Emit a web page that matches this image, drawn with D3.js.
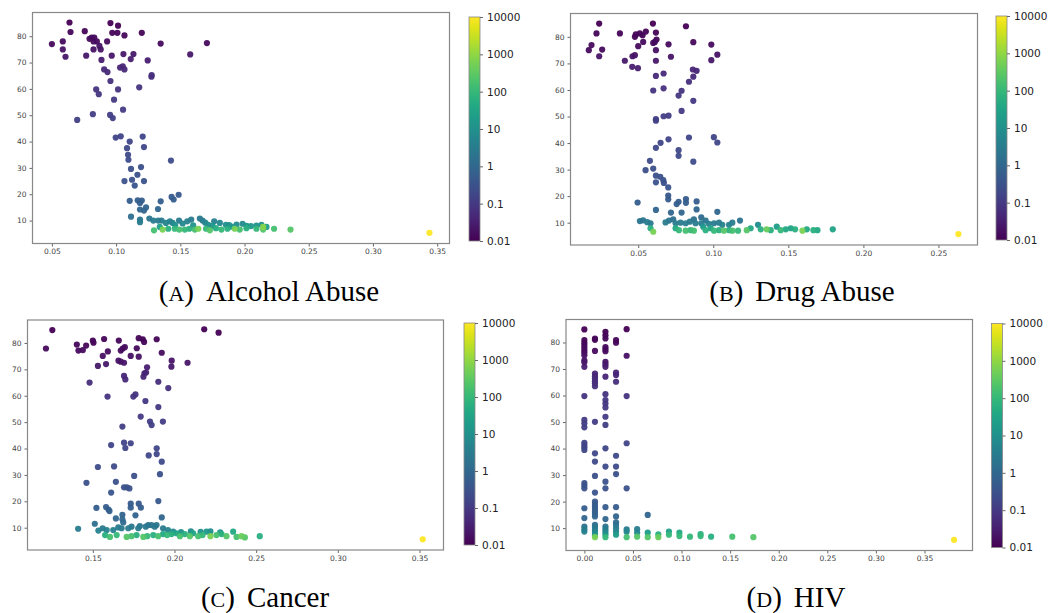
<!DOCTYPE html>
<html lang="en">
<head>
<meta charset="UTF-8">
<title>Scatter panels</title>
<script src="https://d3js.org/d3.v7.min.js"></script>
<style>
    body { margin: 0; background: #fff; }
    .ax .tick text { font-family: "DejaVu Sans", sans-serif; font-size: 7.5px; fill: #444; }
    .ax .tick line { stroke: #666; }
    .ax path { display: none; }
    .cb .tick text { font-family: "DejaVu Sans", sans-serif; font-size: 10.5px; fill: #222; }
    .cb .tick line { stroke: #666; }
    .cb path { display: none; }
    .frame { fill: none; stroke: #888; stroke-width: 1.2; }
    .caption { font-family: "Liberation Serif", "DejaVu Serif", serif; font-size: 29px; fill: #000; }
</style>
</head>
<body>
<svg width="1057" height="613"></svg>
<script>
// [x, y, colour value]
var alcohol = [
    [0.050,77,0.015],[0.0585,78,0.015],[0.0585,75,0.02],[0.0606,72.2,0.025],[0.0637,85.2,0.01],[0.0645,81.6,0.012],
    [0.0756,81.9,0.012],[0.0767,72.6,0.025],[0.0793,79,0.015],[0.081,79.5,0.015],[0.083,79.5,0.015],[0.0824,78,0.015],
    [0.0824,75,0.02],[0.085,78,0.015],[0.087,76.3,0.02],[0.088,75,0.02],[0.0886,71,0.03],[0.093,78,0.015],[0.0956,85,0.01],
    [0.097,81.3,0.012],[0.101,81.3,0.012],[0.1015,84,0.01],[0.1065,80.3,0.013],[0.0966,72.6,0.025],[0.1057,73.2,0.025],
    [0.1135,73.2,0.025],[0.1114,71.3,0.03],[0.12,81.3,0.012],[0.1246,70.8,0.03],[0.1347,77.2,0.015],[0.1577,73.1,0.025],
    [0.1707,77.4,0.015],
    [0.0907,67.4,0.05],[0.0933,66.4,0.05],[0.1031,68.1,0.045],[0.1052,68.6,0.045],[0.1065,67.4,0.05],[0.1277,65.2,0.06],
    [0.1275,64.6,0.06],[0.0956,63,0.07],
    [0.0845,59.8,0.08],[0.0865,58,0.09],[0.1015,59.8,0.08],[0.118,60.6,0.08],[0.0984,55.9,0.1],[0.1054,52.1,0.11],
    [0.0697,48.2,0.13],[0.0819,50.4,0.12],[0.0953,50.1,0.12],[0.0974,48.9,0.13],
    [0.0997,41.5,0.17],[0.1036,42,0.17],[0.1106,40,0.18],[0.1207,41.9,0.17],[0.1217,37.9,0.2],[0.1085,37.5,0.2],
    [0.1093,35,0.22],[0.1096,33.1,0.24],[0.1427,32.8,0.24],[0.1116,29.6,0.28],[0.1194,30.3,0.27],
    [0.1166,27.4,0.3],[0.1065,25,0.33],[0.1124,25.5,0.32],[0.1145,23.3,0.36],[0.1217,25,0.33],
    [0.1432,19,0.5],[0.1448,18,0.55],[0.1487,19.8,0.48],[0.1106,17.5,0.6],[0.1168,17.7,0.6],[0.1186,16.7,0.65],
    [0.12,17.6,0.6],[0.1347,17.3,0.6],[0.1186,14.2,0.9],[0.1217,13.8,0.9],[0.1233,15,0.8],[0.1326,14.4,0.85],
    [0.1116,11.5,1.5],[0.1186,10.4,2],[0.1186,9.4,3],
    [0.1259,10.8,2],[0.129,10,3],[0.1328,10,3],[0.1354,10,3],[0.1388,9.1,5],[0.1419,9.7,4],[0.144,9.1,5],[0.149,10,3],
    [0.1518,8.9,6],[0.1554,9.7,4],[0.1585,10.4,3],[0.1652,10.8,2.5],[0.1673,10,3],[0.1694,9.2,5],[0.1717,8.4,8],
    [0.1764,9.7,4],[0.1808,9.1,6],[0.1855,8.4,9],[0.19,7.7,15],[0.1938,8.5,8],[0.1985,8.8,7],[0.2016,8,12],[0.2093,8.1,12],
    [0.2132,8.4,10],[0.2171,7.6,20],[0.146,8.3,10],[0.16,8.2,12],[0.175,8.0,14],[0.188,8.3,10],[0.205,7.9,14],
    [0.1295,6.3,160],[0.134,7.6,25],[0.1362,6.6,600],[0.1406,6.9,60],[0.1457,6.9,100],[0.1492,6.6,160],[0.1535,6.6,100],
    [0.157,6.9,60],[0.1613,6.6,160],[0.164,6.9,600],[0.17,6.9,100],[0.173,6.3,250],[0.1777,7.1,50],[0.182,6.6,100],
    [0.1867,6.9,60],[0.1924,6.9,600],[0.1963,6.6,160],[0.2015,7.1,60],[0.2093,6.9,100],[0.2145,6.6,250],[0.2145,7.6,800],
    [0.223,6.9,160],[0.2358,6.6,250],
    [0.344,5.35,10000]
];

var drug = [
    [0.0171,75,0.015],[0.0189,76.9,0.015],[0.0222,81.3,0.012],[0.024,85,0.01],[0.024,72.7,0.02],[0.026,75.2,0.015],
    [0.0378,81.3,0.012],[0.0411,71,0.025],[0.0462,72.7,0.02],[0.046,68.7,0.03],[0.0478,73.1,0.02],[0.0498,68.2,0.03],
    [0.0478,80,0.012],[0.0484,80.9,0.012],[0.05,76.5,0.015],[0.0511,81.3,0.012],[0.0529,80.6,0.012],[0.0533,78.1,0.015],
    [0.0551,82,0.012],[0.0598,85,0.01],[0.06,77.7,0.015],[0.0611,78.1,0.015],[0.0618,81.6,0.012],[0.0622,79,0.013],
    [0.0618,75,0.018],[0.0618,71,0.025],[0.0702,77.2,0.015],[0.0718,72.5,0.02],[0.0818,84,0.01],[0.0867,78,0.013],
    [0.0987,77.1,0.015],[0.0987,71.2,0.025],[0.1027,73.3,0.02],
    [0.0618,65.3,0.05],[0.0669,66.2,0.05],[0.0864,67.7,0.045],[0.0889,67.2,0.045],[0.0867,65,0.05],[0.0838,63.1,0.06],
    [0.06,59.8,0.08],[0.0669,60.6,0.07],[0.0789,59.7,0.08],[0.0769,57.9,0.09],[0.0867,55.9,0.1],[0.0789,52.1,0.11],
    [0.0618,49,0.12],[0.0618,48.4,0.13],[0.0669,50.1,0.12],[0.0702,50.3,0.12],
    [0.0702,41.4,0.17],[0.0649,40.1,0.18],[0.0838,42.1,0.17],[0.0618,38.2,0.2],[0.0769,37.3,0.2],[0.0769,35.2,0.22],
    [0.0867,33,0.24],[0.1004,42.2,0.17],[0.1027,40.2,0.18],[0.0578,33.3,0.24],[0.06,30.4,0.27],[0.0549,29.8,0.28],
    [0.0618,27.7,0.3],[0.0647,27.3,0.3],[0.0618,25.2,0.33],[0.0667,26,0.32],[0.0671,25,0.33],[0.07,23.3,0.36],
    [0.07,20.2,0.45],[0.07,18.8,0.5],
    [0.0496,17.6,0.6],[0.0769,17.9,0.55],[0.0756,17,0.6],[0.0818,18.9,0.5],[0.0818,17.5,0.6],[0.0889,18,0.55],
    [0.0618,14.8,0.8],[0.0718,13.8,0.9],[0.0789,13.8,0.9],[0.0889,15,0.8],[0.1027,14.1,0.9],
    [0.0511,10.6,2],[0.0533,10.9,2],[0.056,10.2,3],[0.0582,9.8,3],[0.0682,10.1,3],[0.0705,10.8,2],[0.0733,11.3,1.5],
    [0.0749,9.8,3],[0.0782,10,3],[0.0816,9.8,3],[0.0844,10.4,2.5],[0.0871,11.3,1.5],[0.0882,9.8,3],[0.092,12,1.2],
    [0.092,9.8,3],[0.0949,10.8,2],[0.0971,9.6,3.5],[0.1005,9.8,3],[0.1038,10,3],[0.106,9.2,4],[0.1105,9.2,4],
    [0.1127,10,3],[0.1178,10.8,2],
    [0.0582,7.9,60],[0.06,6.6,600],[0.0749,7.9,40],[0.0771,7.2,100],[0.0816,7,160],[0.0849,7.2,100],[0.0871,7,160],
    [0.0933,8.5,15],[0.0949,7.2,60],[0.0982,7.9,30],[0.1005,7,100],[0.1038,7.2,60],[0.1071,7,250],[0.1105,7.2,60],
    [0.1127,7,160],[0.1165,7,100],[0.1223,7.2,250],[0.1249,7.9,40],[0.1298,9.2,8],[0.1316,7.5,60],[0.1356,7.5,400],
    [0.1383,7.2,60],[0.1423,8.5,20],[0.1449,7.2,100],[0.1483,7.5,40],[0.1516,7.9,30],[0.1545,7.5,60],[0.1594,7,600],
    [0.1623,7.5,40],[0.1667,7.2,60],[0.1694,7.2,40],[0.1796,7.5,30],
    [0.2633,5.7,10000]
];

var cancer = [
    [0.1213,77.9,0.015],[0.1252,84.9,0.01],[0.1402,79.4,0.013],[0.1412,77.1,0.015],[0.1439,77.3,0.015],[0.1459,79,0.013],
    [0.15,80.9,0.012],[0.1504,80.1,0.012],[0.1569,81.5,0.012],[0.1561,75.1,0.018],[0.1592,76.8,0.015],[0.1581,72,0.025],
    [0.1531,71.3,0.025],[0.1659,80.9,0.012],[0.1671,77.1,0.015],[0.1683,77.9,0.015],[0.1696,78.4,0.014],[0.1657,73.3,0.02],
    [0.1671,72.9,0.02],[0.1691,72.5,0.022],[0.1732,75.1,0.018],[0.1769,78,0.014],[0.1781,81.8,0.012],[0.1806,81.4,0.012],
    [0.1814,80.4,0.012],[0.1781,74.8,0.018],[0.1891,81.4,0.012],[0.1922,76.3,0.016],[0.1983,73.3,0.02],[0.1981,71,0.025],
    [0.208,72.5,0.022],[0.2182,85.2,0.01],[0.227,83.9,0.01],[0.1832,70.8,0.03],
    [0.1816,68.5,0.04],[0.1826,68.8,0.04],[0.181,67.2,0.045],[0.1691,67.5,0.045],[0.1699,66.2,0.05],[0.148,65,0.06],
    [0.1901,65.3,0.06],[0.1962,62.9,0.07],
    [0.159,59.7,0.08],[0.1748,59.7,0.08],[0.1761,60.5,0.08],[0.1822,58,0.09],[0.1901,55.7,0.1],[0.1793,52.1,0.11],
    [0.185,50.2,0.12],[0.186,48.9,0.13],[0.1929,50.2,0.12],[0.1681,48.3,0.13],
    [0.1612,41.3,0.17],[0.1691,42.2,0.17],[0.1699,40.2,0.18],[0.1732,42,0.17],[0.1891,40.1,0.18],[0.1891,37.9,0.2],
    [0.1842,37.4,0.2],[0.1922,35,0.22],[0.1531,33,0.24],[0.163,33.2,0.24],[0.1911,30.3,0.27],[0.1753,29.6,0.28],
    [0.1461,27,0.3],[0.1641,27.4,0.3],[0.1691,25.3,0.33],[0.1708,25.3,0.33],[0.1724,24.9,0.33],[0.1612,23.3,0.36],
    [0.1522,17.5,0.6],[0.1581,17.8,0.55],[0.1596,16.9,0.6],[0.1602,16.3,0.65],[0.1732,19.1,0.5],[0.1732,17.6,0.6],
    [0.1781,19.1,0.5],[0.1794,17.6,0.6],[0.1901,20.1,0.45],
    [0.1641,13.5,0.9],[0.1681,14.9,0.8],[0.1761,14.7,0.8],[0.1922,13.9,0.9],[0.1681,13.2,1],[0.1512,11.5,1.5],[0.141,9.6,3],
    [0.1534,8.9,4],[0.156,9.8,3],[0.1585,9.1,4],[0.1625,9.1,4],[0.1656,10.1,3],[0.1676,9.8,3],[0.1686,12,1.2],
    [0.1717,9.8,3],[0.1737,10.4,2.5],[0.1778,9.8,3],[0.1788,10.6,2],[0.1824,10.4,2.5],[0.1839,11,2],[0.1859,11,2],
    [0.1879,10.4,2.5],[0.189,11,2],[0.193,9.8,3],[0.196,9.1,5],[0.1992,8.5,8],
    [0.204,8.3,10],[0.21,8.6,8],[0.216,8.4,10],[0.222,8.6,8],[0.228,8.2,12],
    [0.1575,7.2,60],[0.1605,6.5,160],[0.1646,7.2,100],[0.1707,6.5,250],[0.1737,6.8,160],[0.1768,7.2,60],[0.1809,6.5,250],
    [0.1833,6.8,100],[0.187,7.2,60],[0.19,6.8,160],[0.193,7.6,40],[0.1955,7.2,100],[0.1982,7.6,60],[0.2012,7.9,30],
    [0.2033,6.8,160],[0.2063,7.6,60],[0.2094,6.8,250],[0.2114,7.9,30],[0.2145,6.8,160],[0.2172,7.2,100],[0.2196,8.5,15],
    [0.222,6.8,600],[0.2257,7.2,160],[0.2288,7.6,60],[0.2318,6.8,250],[0.2359,8.5,40],[0.238,6.5,160],[0.241,6.8,400],
    [0.2431,6.3,250],[0.2522,6.8,60],
    [0.352,5.6,10000]
];

var hiv = [
    [0,84.9,0.01],[0,80.9,0.012],[0,79.9,0.012],[0,79,0.013],[0,78.1,0.014],[0,77.1,0.015],[0,76.2,0.016],[0,75.2,0.018],
    [0,73.3,0.02],[0,72.5,0.022],[0,70.8,0.03],[0,59.8,0.08],[0,50.8,0.11],[0,49.5,0.12],[0,48,0.13],[0,42.2,0.17],
    [0,41.3,0.17],[0,40.5,0.18],[0,39.5,0.19],[0,27,0.3],[0,26,0.32],[0,25,0.33],[0,17.5,0.6],[0,13.8,0.9],[0,10.6,2],
    [0,9.6,3],[0,8.7,4],
    [0.0109,81.5,0.012],[0.0109,81,0.012],[0.0109,76.8,0.015],[0.0109,68.3,0.04],[0.0109,67.3,0.045],[0.0109,66.4,0.05],
    [0.0109,65.4,0.055],[0.0109,64.6,0.06],[0.0109,63.5,0.065],[0.0109,50.1,0.12],[0.0109,38.2,0.2],[0.0109,35.1,0.22],
    [0.0109,29.7,0.28],[0.0109,23.4,0.36],[0.0109,20,0.45],[0.0109,19.1,0.5],[0.0109,18.1,0.55],[0.0109,17.3,0.6],
    [0.0109,16.2,0.65],[0.0109,15.3,0.75],[0.0109,14.4,0.85],[0.0109,11.2,1.5],[0.0109,10.4,2.5],[0.0109,9.4,3],
    [0.0109,8.5,5],[0.0109,7.5,10],[0.0109,6.6,600],
    [0.0217,84,0.01],[0.0217,82.7,0.011],[0.0217,81.5,0.012],[0.0217,78.3,0.014],[0.0217,77.5,0.015],[0.0217,76.7,0.015],
    [0.0217,72.7,0.02],[0.0217,71.8,0.025],[0.0217,70.8,0.03],[0.0217,67.1,0.045],[0.0217,60.5,0.08],[0.0217,58.3,0.09],
    [0.0217,57,0.09],[0.0217,55.5,0.1],[0.0217,52,0.11],[0.0217,48.9,0.13],[0.0217,40.1,0.18],[0.0217,33.2,0.24],
    [0.0217,27.5,0.3],[0.0217,25,0.33],[0.0217,17.9,0.55],[0.0217,13.4,0.9],[0.0217,10.6,2],[0.0217,9.6,3],
    [0.0217,8.6,5],[0.0217,7.7,10],[0.0217,6.6,100],
    [0.0326,80.9,0.012],[0.0326,79.9,0.012],[0.0326,68.6,0.04],[0.0326,67.7,0.045],[0.0326,65.2,0.06],[0.0326,37.3,0.2],
    [0.0326,33.2,0.24],[0.0326,30.4,0.27],[0.0326,17.9,0.55],[0.0326,14.4,0.85],[0.0326,12.2,1.2],[0.0326,11.2,1.5],
    [0.0326,10,3],[0.0326,8.7,5],[0.0326,7.5,20],
    [0.0435,85,0.01],[0.0435,75,0.018],[0.0435,59.8,0.08],[0.0435,42,0.17],[0.0435,25,0.33],[0.0435,9.5,3],
    [0.0435,8.6,6],[0.0435,6.6,160],
    [0.0543,9.6,3],[0.0543,8.3,6],[0.0543,6.8,250],
    [0.0652,15,0.8],[0.0652,8.3,20],[0.0652,6.6,250],
    [0.0761,7.7,60],[0.0761,6.6,400],
    [0.087,8.7,25],[0.087,7.5,100],
    [0.0978,8.3,40],[0.0978,7,100],
    [0.1087,6.8,100],
    [0.1196,7.8,60],[0.1196,7,100],
    [0.1304,6.8,60],
    [0.1522,6.8,160],
    [0.1739,6.6,250],
    [0.3804,5.6,10000]
];

var cbTicks = [0.01, 0.1, 1, 10, 100, 1000, 10000];
var cbLabels = ["0.01", "0.1", "1", "10", "100", "1000", "10000"];
var yTicks = [10, 20, 30, 40, 50, 60, 70, 80];
var xTicksA = [0.05, 0.10, 0.15, 0.20, 0.25, 0.30, 0.35];
var xTicksB = [0.05, 0.10, 0.15, 0.20, 0.25];
var xTicksC = [0.15, 0.20, 0.25, 0.30, 0.35];
var xTicksD = [0.00, 0.05, 0.10, 0.15, 0.20, 0.25, 0.30, 0.35];
var captionLetters = ["A", "B", "C", "D"];
var captionTitles = ["Alcohol Abuse", "Drug Abuse", "Cancer", "HIV"];

var panels = [
    {pts: alcohol, xt: xTicksA, box: [32.5, 12.5, 449.5, 243.5], xd: [0.0349, 0.3596], yd: [1.3, 89.0],
     cb: [469, 17, 11, 224], cap: [269, 301]},
    {pts: drug, xt: xTicksB, box: [570.5, 13.5, 977.5, 245], xd: [0.0049, 0.276], yd: [1.6, 88.8],
     cb: [996, 16, 11, 224], cap: [802, 301]},
    {pts: cancer, xt: xTicksC, box: [27.5, 320, 443.5, 550], xd: [0.11, 0.3647], yd: [1.55, 88.7],
     cb: [464, 323, 11, 222], cap: [265, 607]},
    {pts: hiv, xt: xTicksD, box: [566, 319.5, 972.5, 550.5], xd: [-0.0189, 0.3994], yd: [1.57, 88.66],
     cb: [991.5, 323.5, 11, 224], cap: [796, 607]}
];

var svg = d3.select("svg");
var color = d3.scaleSequentialLog(d3.interpolateViridis).domain([0.01, 10000]);

// gradient for the colour bars
var grad = svg.append("defs").append("linearGradient")
    .attr("id", "viridis")
    .attr("x1", "0%").attr("y1", "100%")
    .attr("x2", "0%").attr("y2", "0%");
d3.range(0, 1.0001, 0.05).forEach(function(t) {
    grad.append("stop")
        .attr("offset", (t * 100) + "%")
        .attr("stop-color", d3.interpolateViridis(t));
});

panels.forEach(function(p, i) {
    var x = d3.scaleLinear().domain(p.xd).range([p.box[0], p.box[2]]),
        y = d3.scaleLinear().domain(p.yd).range([p.box[3], p.box[1]]);

    var g = svg.append("g");

    g.append("g")
        .attr("class", "ax")
        .attr("transform", "translate(0," + p.box[3] + ")")
        .call(d3.axisBottom(x).tickValues(p.xt).tickSize(3).tickPadding(2.5)
            .tickFormat(d3.format(".2f")));

    g.append("g")
        .attr("class", "ax")
        .attr("transform", "translate(" + p.box[0] + ",0)")
        .call(d3.axisLeft(y).tickValues(yTicks).tickSize(3).tickPadding(3));

    var pts = p.pts.slice().sort(function(a, b) { return a[2] - b[2]; });
    g.selectAll("circle")
        .data(pts)
        .enter().append("circle")
        .attr("cx", function(d) { return x(d[0]); })
        .attr("cy", function(d) { return y(d[1]); })
        .attr("r", 3.1)
        .attr("fill", function(d) { return color(d[2]); })
        .attr("fill-opacity", 0.95);

    g.append("rect")
        .attr("class", "frame")
        .attr("x", p.box[0]).attr("y", p.box[1])
        .attr("width", p.box[2] - p.box[0])
        .attr("height", p.box[3] - p.box[1]);

    // colour bar
    var cb = p.cb;
    g.append("rect")
        .attr("x", cb[0]).attr("y", cb[1])
        .attr("width", cb[2]).attr("height", cb[3])
        .attr("fill", "url(#viridis)")
        .attr("stroke", "#888")
        .attr("stroke-width", 0.8);

    var cbScale = d3.scaleLog().domain([0.01, 10000]).range([cb[1] + cb[3], cb[1]]);
    g.append("g")
        .attr("class", "cb")
        .attr("transform", "translate(" + (cb[0] + cb[2]) + ",0)")
        .call(d3.axisRight(cbScale).tickValues(cbTicks).tickSize(3).tickPadding(4)
            .tickFormat(function(d, j) { return cbLabels[j]; }));

    // caption
    var t = g.append("text")
        .attr("class", "caption")
        .attr("x", p.cap[0]).attr("y", p.cap[1])
        .attr("text-anchor", "middle");
    t.append("tspan").text("(");
    t.append("tspan").attr("font-size", "22px").text(captionLetters[i]);
    t.append("tspan").text(")");
    t.append("tspan").attr("dx", 12).text(captionTitles[i]);
});
</script>
</body>
</html>
